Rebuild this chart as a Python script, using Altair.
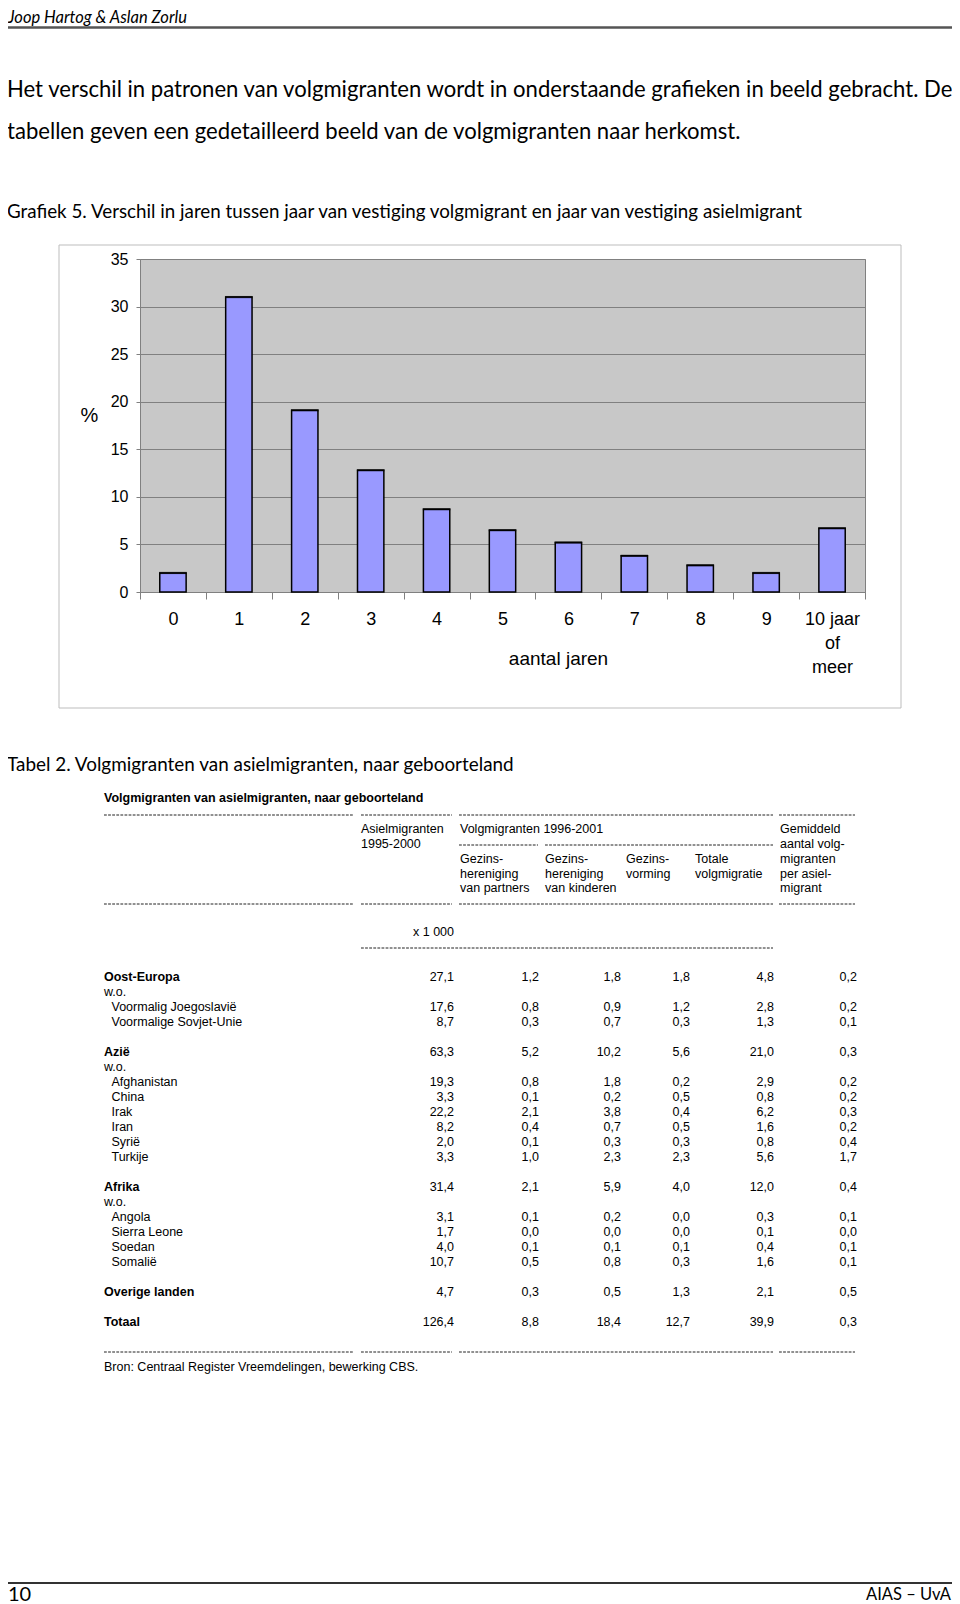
import altair as alt
import pandas as pd

# ---------------- data ----------------
jaren = ["0", "1", "2", "3", "4", "5", "6", "7", "8", "9", "10 jaar of meer"]
procent = [2.0, 31.0, 19.1, 12.8, 8.7, 6.5, 5.2, 3.8, 2.8, 2.0, 6.7]
y_ticks = [0, 5, 10, 15, 20, 25, 30, 35]

regions = ["Oost-Europa", "Azië", "Afrika", "Overige landen", "Totaal"]
sub_countries = {
    "Oost-Europa": ["Voormalig Joegoslavië", "Voormalige Sovjet-Unie"],
    "Azië": ["Afghanistan", "China", "Irak", "Iran", "Syrië", "Turkije"],
    "Afrika": ["Angola", "Sierra Leone", "Soedan", "Somalië"],
    "Overige landen": [],
    "Totaal": [],
}
# values in order: region, its countries, next region ...
asielmigranten = [27.1, 17.6, 8.7, 63.3, 19.3, 3.3, 22.2, 8.2, 2.0, 3.3, 31.4, 3.1, 1.7, 4.0, 10.7, 4.7, 126.4]
partners = [1.2, 0.8, 0.3, 5.2, 0.8, 0.1, 2.1, 0.4, 0.1, 1.0, 2.1, 0.1, 0.0, 0.1, 0.5, 0.3, 8.8]
kinderen = [1.8, 0.9, 0.7, 10.2, 1.8, 0.2, 3.8, 0.7, 0.3, 2.3, 5.9, 0.2, 0.0, 0.1, 0.8, 0.5, 18.4]
vorming = [1.8, 1.2, 0.3, 5.6, 0.2, 0.5, 0.4, 0.5, 0.3, 2.3, 4.0, 0.0, 0.0, 0.1, 0.3, 1.3, 12.7]
totale = [4.8, 2.8, 1.3, 21.0, 2.9, 0.8, 6.2, 1.6, 0.8, 5.6, 12.0, 0.3, 0.1, 0.4, 1.6, 2.1, 39.9]
gemiddeld = [0.2, 0.2, 0.1, 0.3, 0.2, 0.2, 0.3, 0.2, 0.4, 1.7, 0.4, 0.1, 0.0, 0.1, 0.1, 0.5, 0.3]

# ---------------- layout helpers ----------------
PX0, PY0 = 140, 259   # page position of the bar plot's origin
W, H = 725, 333
TOTAL_W, TOTAL_H = 944, 1596
DOC_FONT = "Lato"
TAB_FONT = "Liberation Sans"


def px(x):
    return x - PX0


def py(y):
    return y - PY0


one = pd.DataFrame({"a": [0]})


def label(text, x, y, size=12.5, font=TAB_FONT, weight="normal", style="normal",
          align="left", color="black"):
    return alt.Chart(pd.DataFrame({"t": [text]})).mark_text(
        align=align, baseline="middle", font=font, fontSize=size,
        fontWeight=weight, fontStyle=style, color=color
    ).encode(x=alt.value(px(x)), y=alt.value(py(y)), text="t:N")


def hline(x1, x2, y, color="#333333", width=1.0, dash=None):
    kw = dict(color=color, strokeWidth=width)
    if dash:
        kw["strokeDash"] = dash
    return alt.Chart(one).mark_rule(**kw).encode(
        x=alt.value(px(x1)), x2=alt.value(px(x2)), y=alt.value(py(y))
    )


DASH = [2.8, 1.3]


def dashrow(y, segs):
    return [hline(a, b, y, color="#222222", width=1.0, dash=DASH) for a, b in segs]


layers = []

# ---------------- page text ----------------
layers.append(label("Joop Hartog & Aslan Zorlu", 8, 17.5, size=16.5, font=DOC_FONT, style="italic"))
layers.append(hline(3, 952, 27.5, color="#555555", width=2.6))
layers.append(label("Het verschil in patronen van volgmigranten wordt in onderstaande grafieken in beeld gebracht. De",
                    7, 90, size=22.1, font=DOC_FONT))
layers.append(label("tabellen geven een gedetailleerd beeld van de volgmigranten naar herkomst.",
                    7, 132, size=22.1, font=DOC_FONT))
layers.append(label("Grafiek 5. Verschil in jaren tussen jaar van vestiging volgmigrant en jaar van vestiging asielmigrant",
                    7, 212, size=18.8, font=DOC_FONT))

# chart frame
layers.append(alt.Chart(one).mark_rect(fillOpacity=0, stroke="#bdbdbd", strokeWidth=1).encode(
    x=alt.value(px(59)), x2=alt.value(px(901)), y=alt.value(py(245)), y2=alt.value(py(708))
))

# ---------------- bar chart ----------------
bar_df = pd.DataFrame({"jaren": jaren, "procent": procent})
y_scale = alt.Scale(domain=[0, 35], nice=False)
bars = alt.Chart(bar_df).mark_bar(
    width=alt.RelativeBandSize(0.4), fill="#9999ff", stroke="black", strokeWidth=1.5
).encode(
    x=alt.X(
        "jaren:N", sort=jaren,
        scale=alt.Scale(paddingInner=0, paddingOuter=0),
        axis=alt.Axis(
            title="aantal jaren", titleX=418, titleY=66, titleBaseline="middle",
            titleFont=TAB_FONT, titleFontSize=19, titleFontWeight="normal", titleColor="black",
            labelFont=TAB_FONT, labelFontSize=18, labelColor="black", labelAngle=0,
            labelPadding=11, labelLineHeight=24,
            labelExpr="datum.value == '10 jaar of meer' ? ['10 jaar', 'of', 'meer'] : datum.label",
            tickBand="extent", tickSize=7, tickColor="#808080", domainColor="#808080",
            grid=False,
        ),
    ),
    y=alt.Y(
        "procent:Q",
        scale=y_scale,
        axis=alt.Axis(
            values=y_ticks, grid=True, gridColor="#808080", gridWidth=1,
            tickSize=4, tickColor="#808080", domainColor="#808080",
            labelFont=TAB_FONT, labelFontSize=16, labelColor="black", labelPadding=8,
            title="%", titleAngle=0, titleX=-51, titleY=156, titleBaseline="middle",
            titleAlign="center", titleFont=TAB_FONT, titleFontSize=20,
            titleFontWeight="normal", titleColor="black",
        ),
    ),
)
layers.append(bars)
# thicker top edge of each bar
layers.append(
    alt.Chart(bar_df).mark_tick(color="black", thickness=2.2, size=27.5, orient="horizontal").encode(
        x=alt.X("jaren:N", sort=jaren),
        y=alt.Y("procent:Q", scale=y_scale, axis=None),
    )
)

# ---------------- table ----------------
layers.append(label("Tabel 2. Volgmigranten van asielmigranten, naar geboorteland", 7, 765, size=18.9, font=DOC_FONT))
layers.append(label("Volgmigranten van asielmigranten, naar geboorteland", 104, 798, weight="bold"))

SEG4 = [(104, 354), (361, 452), (459, 773), (779, 855)]
layers += dashrow(815, SEG4)
layers += dashrow(845, [(459, 538), (545, 773)])
layers += dashrow(904, SEG4)
layers += dashrow(948, [(361, 773)])
layers += dashrow(1352, SEG4)

header = [
    ("Asielmigranten", 361, 829), ("1995-2000", 361, 844),
    ("Volgmigranten 1996-2001", 460, 829),
    ("Gemiddeld", 780, 829), ("aantal volg-", 780, 844), ("migranten", 780, 859),
    ("per asiel-", 780, 874), ("migrant", 780, 888),
    ("Gezins-", 460, 859), ("hereniging", 460, 874), ("van partners", 460, 888),
    ("Gezins-", 545, 859), ("hereniging", 545, 874), ("van kinderen", 545, 888),
    ("Gezins-", 626, 859), ("vorming", 626, 874),
    ("Totale", 695, 859), ("volgmigratie", 695, 874),
]
for t, x, y in header:
    layers.append(label(t, x, y))
layers.append(label("x 1 000", 454, 932, align="right"))

# build table rows
columns = {
    "asielmigranten": asielmigranten, "partners": partners, "kinderen": kinderen,
    "vorming": vorming, "totale": totale, "gemiddeld": gemiddeld,
}
row_records, value_records = [], []
r, k = 0, 0
for reg in regions:
    row_records.append({"row": r, "label": reg, "kind": "region"})
    for c, vals in columns.items():
        value_records.append({"row": r, "col": c, "value": vals[k]})
    r += 1
    k += 1
    subs = sub_countries[reg]
    if subs:
        row_records.append({"row": r, "label": "w.o.", "kind": "wo"})
        r += 1
        for s in subs:
            row_records.append({"row": r, "label": s, "kind": "sub"})
            for c, vals in columns.items():
                value_records.append({"row": r, "col": c, "value": vals[k]})
            r += 1
            k += 1
    r += 1

rows_df = pd.DataFrame(row_records)
vals_df = pd.DataFrame(value_records)

ROW0 = 977.4
STEP = 14.98
row_scale = alt.Scale(domain=[0, 26], range=[py(ROW0), py(ROW0 + 26 * STEP)], nice=False, zero=False)

for kind, x, weight in [("region", 104, "bold"), ("wo", 104, "normal"), ("sub", 111.5, "normal")]:
    layers.append(
        alt.Chart(rows_df).transform_filter(alt.datum.kind == kind).mark_text(
            align="left", baseline="middle", font=TAB_FONT, fontSize=12.5,
            fontWeight=weight, color="black"
        ).encode(x=alt.value(px(x)), y=alt.Y("row:Q", scale=row_scale, axis=None), text="label:N")
    )

col_right = {"asielmigranten": 454, "partners": 539, "kinderen": 621,
             "vorming": 690, "totale": 774, "gemiddeld": 857}
for c, xr in col_right.items():
    layers.append(
        alt.Chart(vals_df).transform_filter(alt.datum.col == c).transform_calculate(
            t="replace(format(datum.value, '.1f'), '.', ',')"
        ).mark_text(
            align="right", baseline="middle", font=TAB_FONT, fontSize=12.5, color="black"
        ).encode(x=alt.value(px(xr)), y=alt.Y("row:Q", scale=row_scale, axis=None), text="t:N")
    )

layers.append(label("Bron: Centraal Register Vreemdelingen, bewerking CBS.", 104, 1367))

# ---------------- footer ----------------
layers.append(hline(3, 952, 1583, color="#333333", width=2))
layers.append(label("10", 8, 1595, size=20, font=DOC_FONT))
layers.append(label("AIAS – UvA", 951, 1595, size=16.5, font=DOC_FONT, align="right"))

chart = alt.layer(*layers).resolve_scale(y="independent").properties(
    width=W, height=H,
    autosize=alt.AutoSizeParams(type="none"),
    padding={"left": PX0 - 8, "top": PY0 - 8, "right": TOTAL_W - (PX0 - 8) - W,
             "bottom": TOTAL_H - (PY0 - 8) - H},
    background="white",
).configure_view(fill="#c8c8c8", stroke="#808080", strokeWidth=1)

chart.save("out.html", embed_options={"renderer": "svg", "actions": False})
